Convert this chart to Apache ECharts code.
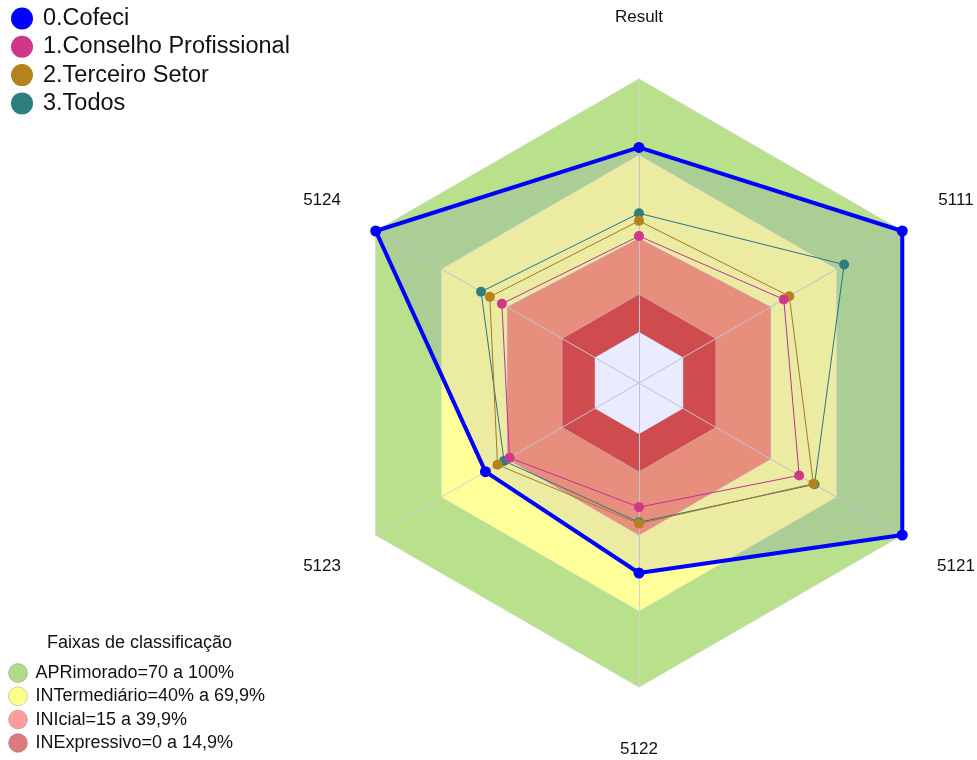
<!DOCTYPE html>
<html>
<head>
<meta charset="utf-8">
<title>Result</title>
<script src="https://cdn.jsdelivr.net/npm/echarts@6/dist/echarts.min.js"></script>
<style>
  html, body { margin: 0; padding: 0; background: #fff; }
  #chart { width: 977px; height: 760px; }
</style>
</head>
<body>
<div id="chart"></div>
<script>
// eixos na ordem do echarts (anti-horario a partir do topo)
const categories = ["Result", "5124", "5123", "5122", "5121", "5111"];

const seriesNames = ["0.Cofeci", "1.Conselho Profissional", "2.Terceiro Setor", "3.Todos"];
const cofeci = [73, 100, 50, 55, 100, 100];
const conselho = [38, 42.5, 39, 29, 53, 46];
const terceiro = [44, 48, 44.5, 35.5, 59.5, 48.5];
const todos = [47, 52, 41.5, 35, 60, 73.5];

// faixas de classificacao
const bandNames = [
  "APRimorado=70 a 100%",
  "INTermediário=40% a 69,9%",
  "INIcial=15 a 39,9%",
  "INExpressivo=0 a 14,9%"
];
const aprimorado = [100, 100, 100, 100, 100, 100];
const intermediario = [70, 70, 70, 70, 70, 70];
const inicial = [37, 40, 40, 40, 40, 40];
const inexpressivo = [14.9, 14.9, 14.9, 14.9, 14.9, 14.9];
const centro = [0, 0, 0, 0, 0, 0];

const axisMin = -20;
const axisMax = 100;

const font = "'Liberation Sans', Arial, sans-serif";
const bandFill = ["#b9e08b", "#ffff99", "#fc9b72", "#e2523e"];
const bandLegend = ["#b0dc88", "#ffff8c", "#ff9c9c", "#dc7b7b"];
const lineColors = ["#0000ff", "#d0378a", "#b5831e", "#2e7e7e"];

let chart = echarts.init(document.getElementById("chart"));

function band(name, values, color) {
  return {
    name: name,
    type: "radar",
    z: 1,
    symbol: "none",
    silent: true,
    lineStyle: { color: "rgba(210,210,225,0.9)", width: 1 },
    areaStyle: { color: color, opacity: 1 },
    itemStyle: { color: color },
    data: [{ value: values, name: name }]
  };
}

function line(name, values, color, width, z) {
  return {
    name: name,
    type: "radar",
    z: z,
    symbol: "circle",
    symbolSize: 10,
    itemStyle: { color: color },
    lineStyle: { color: color, width: width },
    data: [{ value: values, name: name }]
  };
}

let cofeciSeries = line(seriesNames[0], cofeci, lineColors[0], 4, 3);
cofeciSeries.symbolSize = 11;
cofeciSeries.areaStyle = { color: "rgba(0,0,255,0.11)" };

chart.setOption({
  animation: false,
  textStyle: { fontFamily: font },
  title: {
    text: "Faixas de classificação",
    left: 47,
    top: 634,
    padding: 0,
    textStyle: { fontSize: 18, fontWeight: "normal", color: "#111", fontFamily: font }
  },
  legend: [
    {
      orient: "vertical",
      left: 11,
      top: 6.5,
      padding: 0,
      icon: "circle",
      itemWidth: 32,
      itemHeight: 22,
      itemGap: 4.3,
      textStyle: { fontSize: 23.5, lineHeight: 22, color: "#111", fontFamily: font },
      data: seriesNames
    },
    {
      orient: "vertical",
      left: 8,
      top: 663,
      padding: 0,
      icon: "circle",
      itemWidth: 25,
      itemHeight: 19,
      itemGap: 3.3,
      selectedMode: false,
      textStyle: { fontSize: 18, lineHeight: 19, color: "#111", fontFamily: font },
      data: bandNames.map(function(n, i) {
        return { name: n, itemStyle: { color: bandLegend[i], borderColor: "rgba(120,120,120,0.35)", borderWidth: 1 } };
      })
    }
  ],
  radar: {
    z: 2,
    center: [639, 383],
    radius: 304,
    shape: "polygon",
    startAngle: 90,
    axisNameGap: 62,
    axisName: {
      color: "#111",
      fontSize: 17,
      fontFamily: font,
      align: "center",
      verticalAlign: "middle"
    },
    splitNumber: 1,
    splitLine: { show: false },
    splitArea: { show: false },
    axisLine: { lineStyle: { color: "#d2d2d2", width: 1 } },
    indicator: categories.map(function(c) {
      return { name: c, min: axisMin, max: axisMax };
    })
  },
  series: [
    band(bandNames[0], aprimorado, bandFill[0]),
    band(bandNames[1], intermediario, bandFill[1]),
    band(bandNames[2], inicial, bandFill[2]),
    band(bandNames[3], inexpressivo, bandFill[3]),
    band("centro", centro, "#ffffff"),
    line(seriesNames[3], todos, lineColors[3], 1, 3),
    line(seriesNames[2], terceiro, lineColors[2], 1, 3),
    line(seriesNames[1], conselho, lineColors[1], 1, 3),
    cofeciSeries
  ]
});

window.onresize = chart.resize;
</script>
</body>
</html>
